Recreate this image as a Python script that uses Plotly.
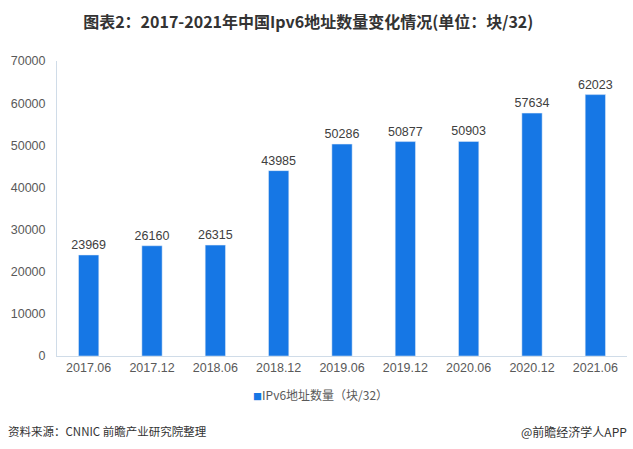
import plotly.graph_objects as go

categories = ["2017.06", "2017.12", "2018.06", "2018.12", "2019.06", "2019.12", "2020.06", "2020.12", "2021.06"]
values = [23969, 26160, 26315, 43985, 50286, 50877, 50903, 57634, 62023]
series_name = "IPv6地址数量（块/32）"
title_text = "图表2：2017-2021年中国Ipv6地址数量变化情况(单位：块/32)"
source_text = "资料来源：CNNIC 前瞻产业研究院整理"
brand_text = "@前瞻经济学人APP"

bar_color = "#1677E5"
font_family = "Noto Sans CJK SC, Roboto, sans-serif"
num_font = "Liberation Sans, Arial, sans-serif"

fig = go.Figure()
fig.add_trace(go.Bar(
    x=categories, y=values, name=series_name,
    marker=dict(color=bar_color),
    text=[str(v) for v in values], textposition="outside",
    constraintext="none",
    textfont=dict(size=12.5, color="#404040", family=num_font),
    cliponaxis=False,
    showlegend=False,
))

fig.update_layout(
    width=633, height=449,
    margin=dict(l=57, r=6, t=61, b=93),
    paper_bgcolor="white", plot_bgcolor="white",
    bargap=0.68,
    font=dict(family=font_family, color="#595959"),
    title=dict(text="<b>" + title_text + "</b>", x=0.487, xanchor="center", y=0.951, yanchor="middle",
               font=dict(size=16, color="#333333", family=font_family)),
    xaxis=dict(showline=True, linecolor="#D0DCE8", linewidth=1, ticks="", showgrid=False,
               tickfont=dict(size=12.5, color="#595959", family=num_font)),
    yaxis=dict(range=[0, 70000], dtick=10000, tickformat="d", showline=True, linecolor="#D0DCE8", linewidth=1,
               showgrid=False, zeroline=False, ticks="", ticklabelstandoff=8,
               tickfont=dict(size=12.5, color="#595959", family=num_font)),
    showlegend=False,
)

# legend drawn as text (small square marker + label)
fig.add_annotation(text="<span style='color:%s;font-size:9px'>■</span>%s" % (bar_color, series_name),
                   xref="paper", yref="paper", x=0.463, y=-0.13,
                   xanchor="center", yanchor="middle", showarrow=False,
                   font=dict(size=12, color="#595959", family=font_family))

fig.add_annotation(text=source_text, xref="paper", yref="paper", x=-0.09, y=-0.255,
                   xanchor="left", yanchor="middle", showarrow=False,
                   font=dict(size=11.5, color="#333333", family=font_family))
fig.add_annotation(text=brand_text, xref="paper", yref="paper", x=1.003, y=-0.255,
                   xanchor="right", yanchor="middle", showarrow=False,
                   font=dict(size=12, color="#333333", family=font_family))

fig.write_html("out.html")
